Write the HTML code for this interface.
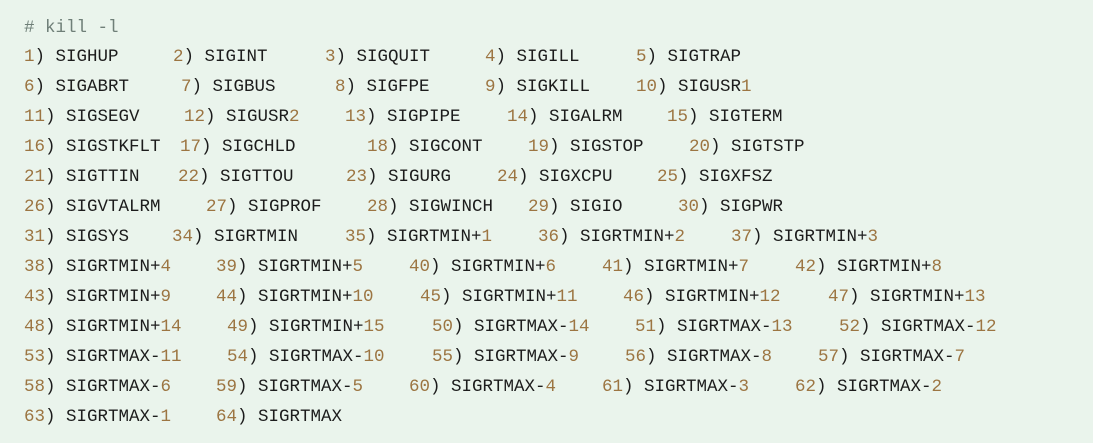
<!DOCTYPE html>
<html><head><meta charset="utf-8"><style>
html,body{margin:0;padding:0}
body{width:1093px;height:443px;background:#eaf4ec;position:relative;overflow:hidden;font-family:"Liberation Mono",monospace;font-size:17.5px;color:#1c1c1c}
.e{position:absolute;line-height:20px;white-space:nowrap}
b{font-weight:normal;color:#9c7542}
.h{position:absolute;left:24px;top:18px;line-height:20px;font-family:"Liberation Mono",monospace;font-size:17.5px;color:#6f7f78}
</style></head><body>
<div class="h"># kill -l</div>
<span class="e" style="left:24px;top:47px"><b>1</b>) SIGHUP</span>
<span class="e" style="left:173px;top:47px"><b>2</b>) SIGINT</span>
<span class="e" style="left:325px;top:47px"><b>3</b>) SIGQUIT</span>
<span class="e" style="left:485px;top:47px"><b>4</b>) SIGILL</span>
<span class="e" style="left:636px;top:47px"><b>5</b>) SIGTRAP</span>

<span class="e" style="left:24px;top:77px"><b>6</b>) SIGABRT</span>
<span class="e" style="left:181px;top:77px"><b>7</b>) SIGBUS</span>
<span class="e" style="left:335px;top:77px"><b>8</b>) SIGFPE</span>
<span class="e" style="left:485px;top:77px"><b>9</b>) SIGKILL</span>
<span class="e" style="left:636px;top:77px"><b>10</b>) SIGUSR<b>1</b></span>

<span class="e" style="left:24px;top:107px"><b>11</b>) SIGSEGV</span>
<span class="e" style="left:184px;top:107px"><b>12</b>) SIGUSR<b>2</b></span>
<span class="e" style="left:345px;top:107px"><b>13</b>) SIGPIPE</span>
<span class="e" style="left:507px;top:107px"><b>14</b>) SIGALRM</span>
<span class="e" style="left:667px;top:107px"><b>15</b>) SIGTERM</span>

<span class="e" style="left:24px;top:137px"><b>16</b>) SIGSTKFLT</span>
<span class="e" style="left:180px;top:137px"><b>17</b>) SIGCHLD</span>
<span class="e" style="left:367px;top:137px"><b>18</b>) SIGCONT</span>
<span class="e" style="left:528px;top:137px"><b>19</b>) SIGSTOP</span>
<span class="e" style="left:689px;top:137px"><b>20</b>) SIGTSTP</span>

<span class="e" style="left:24px;top:167px"><b>21</b>) SIGTTIN</span>
<span class="e" style="left:178px;top:167px"><b>22</b>) SIGTTOU</span>
<span class="e" style="left:346px;top:167px"><b>23</b>) SIGURG</span>
<span class="e" style="left:497px;top:167px"><b>24</b>) SIGXCPU</span>
<span class="e" style="left:657px;top:167px"><b>25</b>) SIGXFSZ</span>

<span class="e" style="left:24px;top:197px"><b>26</b>) SIGVTALRM</span>
<span class="e" style="left:206px;top:197px"><b>27</b>) SIGPROF</span>
<span class="e" style="left:367px;top:197px"><b>28</b>) SIGWINCH</span>
<span class="e" style="left:528px;top:197px"><b>29</b>) SIGIO</span>
<span class="e" style="left:678px;top:197px"><b>30</b>) SIGPWR</span>

<span class="e" style="left:24px;top:227px"><b>31</b>) SIGSYS</span>
<span class="e" style="left:172px;top:227px"><b>34</b>) SIGRTMIN</span>
<span class="e" style="left:345px;top:227px"><b>35</b>) SIGRTMIN+<b>1</b></span>
<span class="e" style="left:538px;top:227px"><b>36</b>) SIGRTMIN+<b>2</b></span>
<span class="e" style="left:731px;top:227px"><b>37</b>) SIGRTMIN+<b>3</b></span>

<span class="e" style="left:24px;top:257px"><b>38</b>) SIGRTMIN+<b>4</b></span>
<span class="e" style="left:216px;top:257px"><b>39</b>) SIGRTMIN+<b>5</b></span>
<span class="e" style="left:409px;top:257px"><b>40</b>) SIGRTMIN+<b>6</b></span>
<span class="e" style="left:602px;top:257px"><b>41</b>) SIGRTMIN+<b>7</b></span>
<span class="e" style="left:795px;top:257px"><b>42</b>) SIGRTMIN+<b>8</b></span>

<span class="e" style="left:24px;top:287px"><b>43</b>) SIGRTMIN+<b>9</b></span>
<span class="e" style="left:216px;top:287px"><b>44</b>) SIGRTMIN+<b>10</b></span>
<span class="e" style="left:420px;top:287px"><b>45</b>) SIGRTMIN+<b>11</b></span>
<span class="e" style="left:623px;top:287px"><b>46</b>) SIGRTMIN+<b>12</b></span>
<span class="e" style="left:828px;top:287px"><b>47</b>) SIGRTMIN+<b>13</b></span>

<span class="e" style="left:24px;top:317px"><b>48</b>) SIGRTMIN+<b>14</b></span>
<span class="e" style="left:227px;top:317px"><b>49</b>) SIGRTMIN+<b>15</b></span>
<span class="e" style="left:432px;top:317px"><b>50</b>) SIGRTMAX-<b>14</b></span>
<span class="e" style="left:635px;top:317px"><b>51</b>) SIGRTMAX-<b>13</b></span>
<span class="e" style="left:839px;top:317px"><b>52</b>) SIGRTMAX-<b>12</b></span>

<span class="e" style="left:24px;top:347px"><b>53</b>) SIGRTMAX-<b>11</b></span>
<span class="e" style="left:227px;top:347px"><b>54</b>) SIGRTMAX-<b>10</b></span>
<span class="e" style="left:432px;top:347px"><b>55</b>) SIGRTMAX-<b>9</b></span>
<span class="e" style="left:625px;top:347px"><b>56</b>) SIGRTMAX-<b>8</b></span>
<span class="e" style="left:818px;top:347px"><b>57</b>) SIGRTMAX-<b>7</b></span>

<span class="e" style="left:24px;top:377px"><b>58</b>) SIGRTMAX-<b>6</b></span>
<span class="e" style="left:216px;top:377px"><b>59</b>) SIGRTMAX-<b>5</b></span>
<span class="e" style="left:409px;top:377px"><b>60</b>) SIGRTMAX-<b>4</b></span>
<span class="e" style="left:602px;top:377px"><b>61</b>) SIGRTMAX-<b>3</b></span>
<span class="e" style="left:795px;top:377px"><b>62</b>) SIGRTMAX-<b>2</b></span>

<span class="e" style="left:24px;top:407px"><b>63</b>) SIGRTMAX-<b>1</b></span>
<span class="e" style="left:216px;top:407px"><b>64</b>) SIGRTMAX</span>
</body></html>
